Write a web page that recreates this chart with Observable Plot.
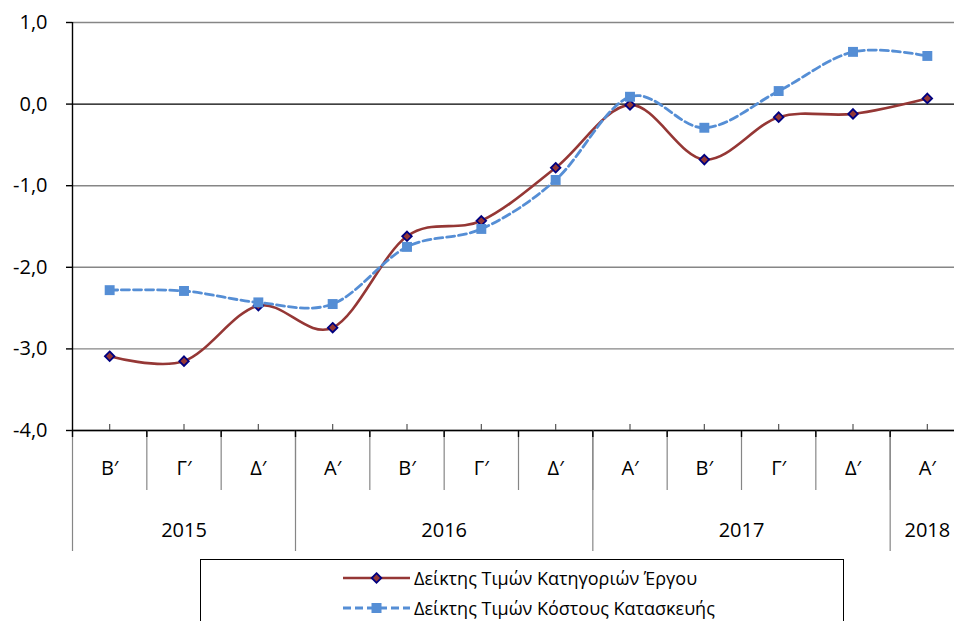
<!DOCTYPE html>
<html><head><meta charset="utf-8">
<script src="https://cdn.jsdelivr.net/npm/d3@7"></script>
<script src="https://cdn.jsdelivr.net/npm/@observablehq/plot@0.6"></script>
<style>
body{margin:0;background:#fff;overflow:hidden;font-family:"Open Sans",sans-serif;}
#wrap{width:954px;height:621px;overflow:hidden;position:relative;background:#fff;}
#chart svg{display:block;}
#legend{position:absolute;left:200px;top:559px;width:644px;height:90px;border:1px solid #000;box-sizing:border-box;background:#fff;}
.row{position:absolute;left:142px;height:22px;line-height:22px;display:flex;align-items:center;font-size:18px;color:#000;white-space:nowrap;}
.row svg{margin-right:4px;}
</style></head><body><div id="wrap"><div id="chart"></div><div id="legend"></div></div>
<script>
// ---- data ----
const quarters = ["Β′","Γ′","Δ′","Α′","Β′","Γ′","Δ′","Α′","Β′","Γ′","Δ′","Α′"];
const years = ["2015","2016","2017","2018"];
const yearQuarterCounts = [3,4,4,1];
const categoryPriceIndex = [-3.09,-3.15,-2.47,-2.74,-1.62,-1.43,-0.78,-0.01,-0.68,-0.16,-0.12,0.07];
const constructionCostIndex = [-2.28,-2.29,-2.43,-2.45,-1.75,-1.53,-0.93,0.09,-0.29,0.16,0.64,0.59];
const yTicks = [-4,-3,-2,-1,0,1];
const seriesNames = ["Δείκτης Τιμών Κατηγοριών Έργου","Δείκτης Τιμών Κόστους Κατασκευής"];
const seriesColors = ["#953735","#558ED5"];

// ---- derived ----
const n = quarters.length;
const centers = quarters.map((q,i)=>i+0.5);
const inner = d3.range(1,n);
const all = d3.range(0,n+1);
const yearBounds = [0, ...d3.cumsum(yearQuarterCounts)];
const yearCenters = years.map((y,i)=>(yearBounds[i]+yearBounds[i+1])/2);
const redData = quarters.map((q,i)=>({x:i+0.5,y:categoryPriceIndex[i]}));
const blueData = quarters.map((q,i)=>({x:i+0.5,y:constructionCostIndex[i]}));
const curve = d3.curveCardinal.tension(0);
const fmt = d=>d.toFixed(1).replace(".",",");

const chart = Plot.plot({
  width:954, height:556,
  marginLeft:72, marginRight:-10, marginTop:22, marginBottom:126,
  x:{type:"linear", domain:[0,n], label:null},
  y:{domain:[-4,1], label:null},
  style:{fontFamily:"'Open Sans',sans-serif", fontSize:"20px", color:"#000", background:"white"},
  marks:[
    Plot.ruleY(yTicks.filter(d=>d!==0), {stroke:"#868686", strokeWidth:1.4}),
    Plot.ruleY([0], {stroke:"#000", strokeWidth:1.4}),
    Plot.ruleX([0], {stroke:"#000", strokeWidth:1.4}),
    Plot.ruleY([-4], {stroke:"#000", strokeWidth:1.4}),
    Plot.axisY({ticks:yTicks, tickFormat:fmt, tickSize:6, tickPadding:19, fontSize:20, strokeWidth:1.4}),
    Plot.axisX({ticks:inner, tickSize:60, tickFormat:()=>"", stroke:"#868686", strokeWidth:1.2}),
    Plot.axisX({ticks:yearBounds, tickSize:121, tickFormat:()=>"", stroke:"#868686", strokeWidth:1.2}),
    Plot.axisX({ticks:all, tickSize:7, tickFormat:()=>"", stroke:"#000", strokeWidth:1.4}),
    Plot.axisX({ticks:centers, tickSize:-6, tickFormat:()=>"", stroke:"#555", strokeWidth:1.2}),
    Plot.axisX({ticks:centers, tickSize:0, tickPadding:30, tickFormat:d=>quarters[Math.round(d-0.5)], fontSize:20}),
    Plot.axisX({ticks:yearCenters, tickSize:0, tickPadding:92, tickFormat:d=>years[yearCenters.indexOf(d)], fontSize:20}),
    Plot.line(redData, {x:"x", y:"y", stroke:seriesColors[0], strokeWidth:2.6, curve}),
    Plot.dot(redData, {x:"x", y:"y", symbol:"diamond2", r:4.3, fill:seriesColors[0], stroke:"#000080", strokeWidth:1.8}),
    Plot.line(blueData, {x:"x", y:"y", stroke:seriesColors[1], strokeWidth:2.8, strokeDasharray:"8,4", curve}),
    Plot.dot(blueData, {x:"x", y:"y", symbol:"square", r:5.6, fill:seriesColors[1], stroke:"none"})
  ]
});
document.getElementById("chart").appendChild(chart);

// ---- legend ----
const legend = document.getElementById("legend");
const samples = [
  `<svg width="67" height="14"><line x1="0" x2="67" y1="7" y2="7" stroke="${seriesColors[0]}" stroke-width="2.6"/><path d="M33.5,2.2L38.3,7L33.5,11.8L28.7,7Z" fill="${seriesColors[0]}" stroke="#000080" stroke-width="1.8"/></svg>`,
  `<svg width="67" height="14"><line x1="0" x2="67" y1="7" y2="7" stroke="${seriesColors[1]}" stroke-width="2.8" stroke-dasharray="8,4"/><rect x="28.5" y="2" width="10" height="10" fill="${seriesColors[1]}"/></svg>`
];
seriesNames.forEach((name,i)=>{
  const r = document.createElement("div");
  r.className="row";
  r.style.top = (7 + i*30) + "px";
  r.innerHTML = samples[i] + `<span>${name}</span>`;
  legend.appendChild(r);
});
</script></body></html>
